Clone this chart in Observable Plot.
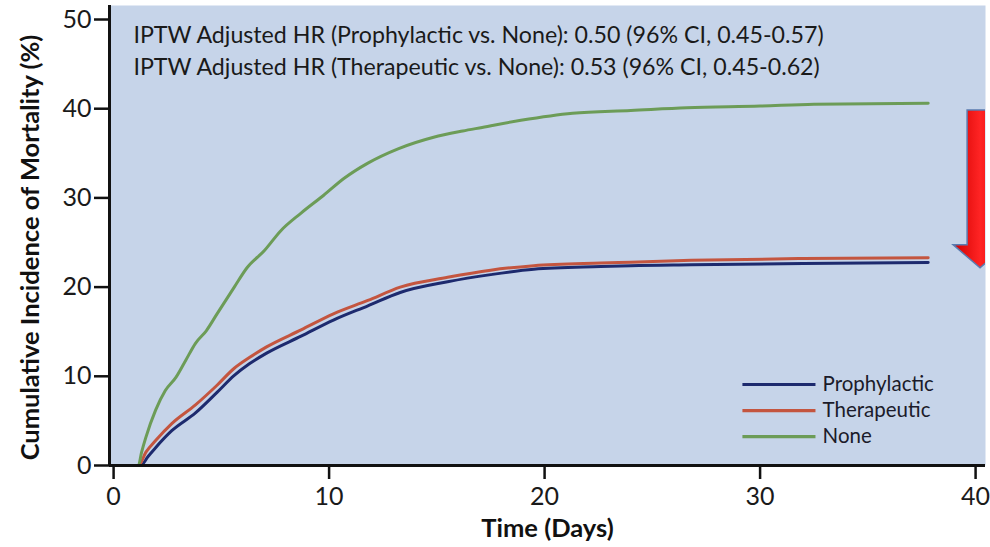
<!DOCTYPE html>
<html><head><meta charset="utf-8">
<script src="https://cdn.jsdelivr.net/npm/d3@7"></script>
<script src="https://cdn.jsdelivr.net/npm/@observablehq/plot@0.6"></script>
<style>
body{margin:0;background:#fff;}
#chart svg{display:block;font-family:Lato,"Open Sans",sans-serif;}
</style>
</head><body><div id="chart"></div>
<script>
// ---- data ----
const seriesNames = ["Prophylactic", "Therapeutic", "None"];
const seriesColors = ["#1d2a6e", "#c4553f", "#6c9c57"];

const prophylacticDays   = [0, 1.25, 1.6, 1.95, 2.7, 3.8, 4.8, 5.6, 6.3, 7.1, 8.7, 10.2, 11.8, 13.3, 15.5, 17.5, 19.5, 22.6, 24, 26.8, 32, 37.8];
const prophylacticValues = [0, 0, 1.0, 2.0, 3.9, 5.9, 8.2, 10.1, 11.4, 12.6, 14.5, 16.3, 17.9, 19.4, 20.6, 21.4, 22.0, 22.3, 22.4, 22.5, 22.65, 22.75];

const therapeuticDays   = [0, 1.16, 1.5, 1.95, 2.7, 3.8, 4.8, 5.6, 6.3, 7.1, 8.7, 10.2, 11.8, 13.3, 15.5, 17.5, 19.5, 22.6, 24, 26.8, 32, 37.8];
const therapeuticValues = [0, 0, 1.5, 2.8, 4.7, 6.8, 9.0, 10.9, 12.1, 13.3, 15.2, 17.0, 18.5, 20.0, 21.1, 21.9, 22.4, 22.7, 22.8, 23.0, 23.2, 23.3];

const noneDays   = [0, 1.15, 1.3, 1.49, 1.95, 2.4, 2.9, 3.35, 3.8, 4.3, 4.8, 5.6, 6.2, 7.0, 7.75, 8.7, 9.75, 10.7, 11.8, 13.2, 14.85, 16.2, 17.1, 18.9, 21.3, 24, 26.6, 30, 32.5, 37.8];
const noneValues = [0, 0, 1.5, 3.1, 6.2, 8.4, 9.9, 11.8, 13.7, 15.1, 17.0, 20.0, 22.2, 24.1, 26.3, 28.3, 30.3, 32.2, 33.9, 35.5, 36.8, 37.5, 37.9, 38.7, 39.5, 39.8, 40.1, 40.3, 40.5, 40.6];

const xTicks = [0, 10, 20, 30, 40];
const yTicks = [0, 10, 20, 30, 40, 50];
const xTitle = "Time (Days)";
const yTitle = "Cumulative Incidence of Mortality (%)";
const annotations = [
  "IPTW Adjusted HR (Prophylactic vs. None): 0.50 (96% CI, 0.45-0.57)",
  "IPTW Adjusted HR (Therapeutic vs. None): 0.53 (96% CI, 0.45-0.62)"
];

// ---- build table ----
const seriesDays = [prophylacticDays, therapeuticDays, noneDays];
const seriesValues = [prophylacticValues, therapeuticValues, noneValues];
const rows = [];
seriesNames.forEach((name, i) => {
  seriesDays[i].forEach((d, j) => rows.push({series: name, day: d, value: seriesValues[i][j]}));
});
const color = Object.fromEntries(seriesNames.map((n, i) => [n, seriesColors[i]]));

const xDomain = [-0.19, 40.46];
const yDomain = [0, 51.57];

// legend layout (in data units)
const legendRows = seriesNames.map((name, i) => ({name, y: 9.08 - i * 2.92}));
const annRows = annotations.map((t, i) => ({t, y: 48.2 - i * 3.55}));

const chart = Plot.plot({
  width: 990,
  height: 547,
  marginLeft: 109,
  marginRight: 5,
  marginTop: 5,
  marginBottom: 82,
  x: {domain: xDomain},
  y: {domain: yDomain},
  marks: [
    Plot.frame({fill: "#c6d4e9", stroke: null}),
    Plot.axisY({ticks: yTicks, tickSize: 15, tickPadding: 3, strokeWidth: 2.5, stroke: "#111", fill: "#1a1a1a", fontSize: 25, label: null}),
    Plot.axisX({ticks: xTicks, tickSize: 14, tickPadding: 8, strokeWidth: 2.5, stroke: "#111", fill: "#1a1a1a", fontSize: 25, label: null}),
    Plot.line(rows, {x: "day", y: "value", z: "series", stroke: d => color[d.series], strokeWidth: 3, strokeLinejoin: "round", curve: "monotone-x"}),
    Plot.ruleX([xDomain[0]], {y1: 0, y2: yDomain[1], stroke: "#111", strokeWidth: 3}),
    Plot.ruleY([0], {stroke: "#111", strokeWidth: 3}),
    // legend
    Plot.link(legendRows, {x1: 29.18, x2: 32.57, y1: "y", y2: "y", stroke: d => color[d.name], strokeWidth: 3.2}),
    Plot.text(legendRows, {x: 32.9, y: "y", text: "name", textAnchor: "start", fontSize: 20.5, fill: "#1b1b2a"}),
    // annotation
    Plot.text(annRows, {x: 0.92, y: "y", text: "t", textAnchor: "start", fontSize: 23.2, fill: "#1a1a1a"}),
    // axis titles
    Plot.text([xTitle], {frameAnchor: "bottom", text: d => d, dy: 71, fontSize: 25.5, fontWeight: "bold", fill: "#111"}),
    Plot.text([yTitle], {frameAnchor: "left", text: d => d, textAnchor: "middle", rotate: -90, dx: -79, dy: 12, fontSize: 25.5, fontWeight: "bold", fill: "#111"})
  ]
});

// decorative red arrow on the right, positioned through the chart's scales
const arrowX = 40.23, arrowTop = 39.8, arrowNeck = 24.7, arrowTip = 22.1;
const shaftHalf = 0.6, headHalf = 1.25;
const sx = chart.scale("x"), sy = chart.scale("y");
const cx = sx.apply(arrowX);
const pts = [
  [sx.apply(arrowX - shaftHalf), sy.apply(arrowTop)],
  [sx.apply(arrowX + shaftHalf), sy.apply(arrowTop)],
  [sx.apply(arrowX + shaftHalf), sy.apply(arrowNeck)],
  [sx.apply(arrowX + headHalf), sy.apply(arrowNeck)],
  [cx, sy.apply(arrowTip)],
  [sx.apply(arrowX - headHalf), sy.apply(arrowNeck)],
  [sx.apply(arrowX - shaftHalf), sy.apply(arrowNeck)]
];
const svg = d3.select(chart);
const defs = svg.append("defs");
const g = defs.append("linearGradient").attr("id", "arrowGrad").attr("x1", "0").attr("x2", "1").attr("y1", "0").attr("y2", "0");
g.append("stop").attr("offset", "0").attr("stop-color", "#d00000");
g.append("stop").attr("offset", "0.5").attr("stop-color", "#ff2424");
g.append("stop").attr("offset", "1").attr("stop-color", "#e00000");
const xEdge = sx.apply(xDomain[1]);
defs.append("clipPath").attr("id", "arrowClip")
  .append("rect").attr("x", 0).attr("y", 0).attr("width", xEdge).attr("height", 547);
svg.append("polygon")
  .attr("points", pts.map(p => p.join(",")).join(" "))
  .attr("clip-path", "url(#arrowClip)")
  .attr("fill", "url(#arrowGrad)")
  .attr("stroke", "#5a7bb0")
  .attr("stroke-width", 1.5);

document.getElementById("chart").appendChild(chart);
</script>
</body></html>
